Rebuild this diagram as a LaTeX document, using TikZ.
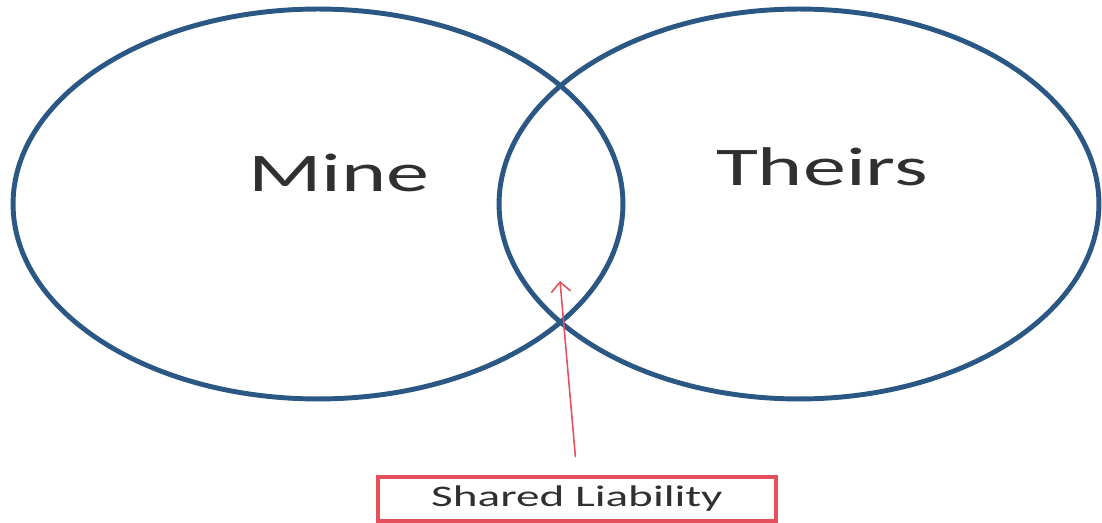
\documentclass[tikz,border=0pt]{standalone}
\usepackage{fontspec}
\setmainfont{Carlito}
\usepackage{graphicx}
\definecolor{VennBlue}{HTML}{2A5783}
\definecolor{TagRed}{HTML}{E5505C}
\definecolor{LabelGray}{HTML}{303030}
\usetikzlibrary{shapes.geometric, arrows.meta, positioning}
\newcommand{\widetext}[1]{\scalebox{1.58}[1]{#1}}

\begin{document}
\begin{tikzpicture}[x=0.02cm, y=-0.02cm,
      set/.style={ellipse, draw=VennBlue, line width=2.8pt, inner sep=0pt, minimum height=7.8cm},
      setname/.style={text=LabelGray, font=\fontsize{31}{31}\selectfont, anchor=base},
      tag/.style={draw=TagRed, line width=2.1pt, minimum width=7.96cm, minimum height=0.88cm,
                  text=LabelGray, font=\fontsize{17}{17}\selectfont},
      pointer/.style={TagRed, line width=0.9pt, -{Straight Barb[length=5.5pt, width=11pt]}}]
   \useasboundingbox (0,0) rectangle (1102,523);
   % Overlapping sets
   \node[set, minimum width=12.2cm] (mine) at (318,204) {};
   \node[set, minimum width=12.0cm] (theirs) at (799,204) {};
   % Set names
   \node[setname] (minelabel) at (339,192) {\widetext{Mine}};
   \node[setname] (theirslabel) at (822,186) {\widetext{Theirs}};
   % Overlap callout
   \node[tag] (shared) at (577,499) {\widetext{Shared Liability}};
   \coordinate (overlap) at (560,281);
   \draw[pointer, shorten <=0.36cm] (shared.north) -- (overlap);
\end{tikzpicture}
\end{document}
